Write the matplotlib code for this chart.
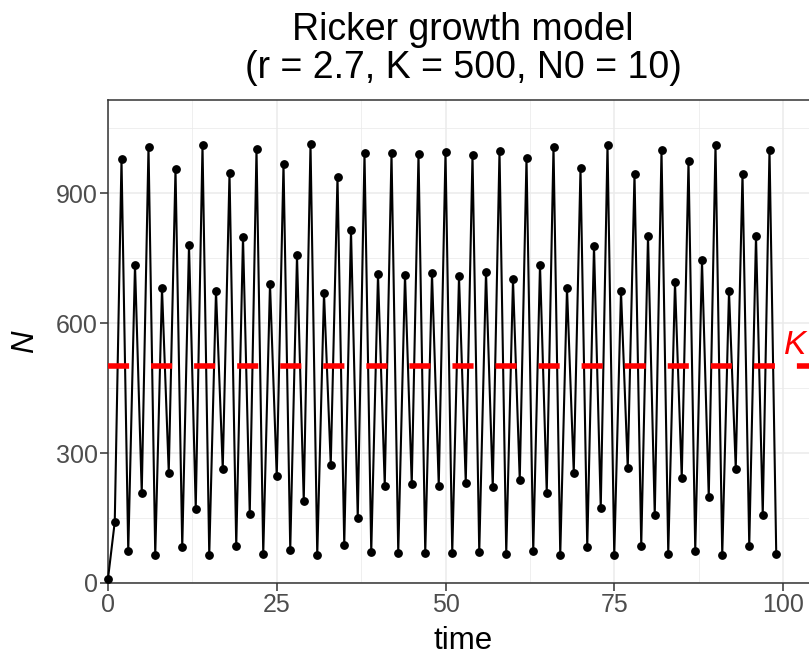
import matplotlib
matplotlib.use("Agg")
import matplotlib.pyplot as plt
import numpy as np

plt.rcParams['font.family'] = ['Liberation Sans', 'DejaVu Sans']

# population size, t = 0..99
time = np.arange(100)
N = [10, 141, 979, 73, 735, 208, 1008, 65, 681, 255,
     956, 82, 781, 172, 1011, 64, 675, 263, 946, 85,
     800, 159, 1002, 67, 691, 246, 968, 77, 757, 190,
     1014, 64, 670, 273, 938, 88, 815, 150, 992, 71,
     713, 225, 992, 69, 712, 228, 991, 69, 715, 225,
     995, 69, 708, 232, 988, 71, 719, 221, 998, 68,
     701, 238, 981, 73, 735, 208, 1008, 65, 682, 255,
     958, 83, 779, 173, 1012, 64, 674, 265, 945, 86,
     802, 156, 1000, 68, 695, 242, 974, 75, 745, 198,
     1012, 64, 674, 264, 945, 86, 802, 157, 1001, 67]
K = 500
title = "Ricker growth model\n(r = 2.7, K = 500, N0 = 10)"
x_ticks = [0, 25, 50, 75, 100]
y_ticks = [0, 300, 600, 900]

fig = plt.figure(figsize=(8.09, 6.56), dpi=100)
W, H = 809, 656
ax = fig.add_axes([108 / W, (H - 583) / H, (818 - 108) / W, (583 - 100) / H])

ax.set_xlim(0, (818 - 108) / 6.75)
ax.set_ylim(0, (583.3 - 100) / 0.4333)

# grid like theme_bw
ax.set_xticks(x_ticks)
ax.set_yticks(y_ticks)
ax.set_xticks([12.5, 37.5, 62.5, 87.5], minor=True)
ax.set_yticks([150, 450, 750, 1050], minor=True)
ax.grid(which="major", color="#EBEBEB", linewidth=1.1, zorder=0)
ax.grid(which="minor", color="#EBEBEB", linewidth=0.55, zorder=0)
ax.tick_params(which="minor", length=0)
ax.tick_params(which="major", length=5.5, width=1.1, color="#333333",
               labelcolor="#4D4D4D", labelsize=18, pad=2)
for s in ax.spines.values():
    s.set_color("#333333")
    s.set_linewidth(1.1)

ax.plot(time, N, color="black", linewidth=1.5, marker="o", markersize=5.3,
        zorder=3, clip_on=False)
ax.plot([0, 106], [K, K], color="red", linewidth=4, dashes=(3.8, 3.95),
        dash_capstyle="butt", zorder=4)
ax.text(100.2, 528, "K", color="red", fontsize=24, fontstyle="italic",
        ha="left", va="baseline", zorder=5)

ax.set_xlabel("time", fontsize=22.5, labelpad=6)
ax.set_ylabel("N", fontsize=22.5, fontstyle="italic", labelpad=11)
ax.set_title(title, fontsize=27, linespacing=1.05, pad=16)

fig.savefig("out.png", dpi=100)
